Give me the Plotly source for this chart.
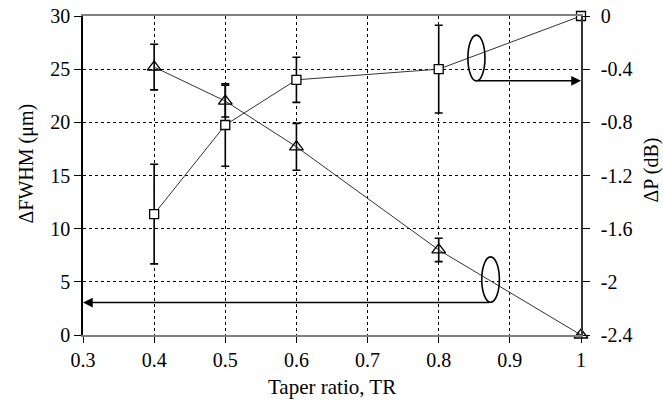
import plotly.graph_objects as go

# Data
taper_ratio = [0.4, 0.5, 0.6, 0.8, 1.0]
dfwhm = [25.2, 22.0, 17.7, 8.0, 0.0]          # left axis (triangles)
dfwhm_err = [2.15, 1.5, 2.2, 1.1, 0.0]
dp = [-1.49, -0.82, -0.48, -0.40, 0.0]         # right axis (squares)
dp_err = [0.375, 0.31, 0.17, 0.33, 0.0]

x_ticks = [0.3, 0.4, 0.5, 0.6, 0.7, 0.8, 0.9, 1.0]
x_ticklabels = ["0.3", "0.4", "0.5", "0.6", "0.7", "0.8", "0.9", "1"]
left_ticks = [0, 5, 10, 15, 20, 25, 30]
right_ticks = [-2.4, -2.0, -1.6, -1.2, -0.8, -0.4, 0.0]
right_ticklabels = ["-2.4", "-2", "-1.6", "-1.2", "-0.8", "-0.4", "0"]

FONT = "Liberation Serif"

fig = go.Figure()

fig.add_trace(go.Scatter(
    x=taper_ratio, y=dfwhm, mode="lines+markers", yaxis="y",
    line=dict(color="#333333", width=1),
    marker=dict(symbol="triangle-up-open", size=12, color="black", line=dict(width=1.3)),
    error_y=dict(type="data", array=dfwhm_err, visible=True, color="black", thickness=1.6, width=4),
    showlegend=False, cliponaxis=False,
))
fig.add_trace(go.Scatter(
    x=taper_ratio, y=dp, mode="lines+markers", yaxis="y2",
    line=dict(color="#333333", width=1),
    marker=dict(symbol="square", size=9, color="white", line=dict(color="black", width=1.3)),
    error_y=dict(type="data", array=dp_err, visible=True, color="black", thickness=1.6, width=4),
    showlegend=False, cliponaxis=False,
))

# Ellipses and arrows (annotation decorations)
ellipse_dp = dict(x0=0.841, x1=0.865, y0=23.9, y1=28.2)
ellipse_fw = dict(x0=0.8605, x1=0.8853, y0=3.08, y1=7.35)
fig.add_shape(type="circle", xref="x", yref="y", line=dict(color="black", width=1.6), **ellipse_dp)
fig.add_shape(type="circle", xref="x", yref="y", line=dict(color="black", width=1.6), **ellipse_fw)
fig.add_annotation(x=1.0, y=23.9, ax=0.853, ay=23.9, xref="x", yref="y", axref="x", ayref="y",
                   text="", showarrow=True, arrowhead=2, arrowsize=1.3, arrowwidth=1.5, arrowcolor="black")
fig.add_annotation(x=0.3, y=3.05, ax=0.873, ay=3.05, xref="x", yref="y", axref="x", ayref="y",
                   text="", showarrow=True, arrowhead=2, arrowsize=1.3, arrowwidth=1.5, arrowcolor="black")

# Axis titles
fig.add_annotation(text="ΔFWHM (μm)", xref="paper", yref="paper", x=0, y=0.5,
                   xanchor="center", yanchor="middle", xshift=-57, yshift=12,
                   textangle=-90, showarrow=False, font=dict(family=FONT, size=20, color="black"))
fig.add_annotation(text="ΔP (dB)", xref="paper", yref="paper", x=1, y=0.5,
                   xanchor="center", yanchor="middle", xshift=70, yshift=5,
                   textangle=-90, showarrow=False, font=dict(family=FONT, size=20, color="black"))
fig.add_annotation(text="Taper ratio, TR", xref="paper", yref="paper", x=0.5, y=0,
                   xanchor="center", yanchor="top", yshift=-38,
                   showarrow=False, font=dict(family=FONT, size=21, color="black"))

grid = dict(showgrid=True, gridcolor="black", gridwidth=1, griddash="3px,3px")

fig.update_layout(
    width=663, height=404,
    margin=dict(l=83, r=82, t=16, b=69, autoexpand=False),
    paper_bgcolor="white", plot_bgcolor="white",
    font=dict(family=FONT, size=20, color="black"),
    xaxis=dict(range=[0.3, 1.0], tickvals=x_ticks, ticktext=x_ticklabels, automargin=False,
               showline=True, linecolor="#808080", linewidth=1.5, mirror=True,
               ticklabeloverflow="allow",
               ticks="outside", ticklen=6, tickcolor="black", zeroline=False, **grid),
    yaxis=dict(range=[0, 30], tickvals=left_ticks, showline=True, linecolor="black", linewidth=1.5,
               automargin=False, ticklabeloverflow="allow",
               ticks="outside", ticklen=7, tickcolor="black", zeroline=False, **grid),
    yaxis2=dict(range=[-2.4, 0], tickvals=right_ticks, ticktext=right_ticklabels,
                overlaying="y", side="right", showline=True, linecolor="#333333", linewidth=1.5,
                automargin=False, ticklabelstandoff=7, ticklabeloverflow="allow",
                ticks="outside", ticklen=7, tickcolor="black", showgrid=False, zeroline=False),
)

fig.write_html("out.html", config={"displayModeBar": False},
               post_script="document.body.style.margin='0';document.body.style.overflow='hidden';")
